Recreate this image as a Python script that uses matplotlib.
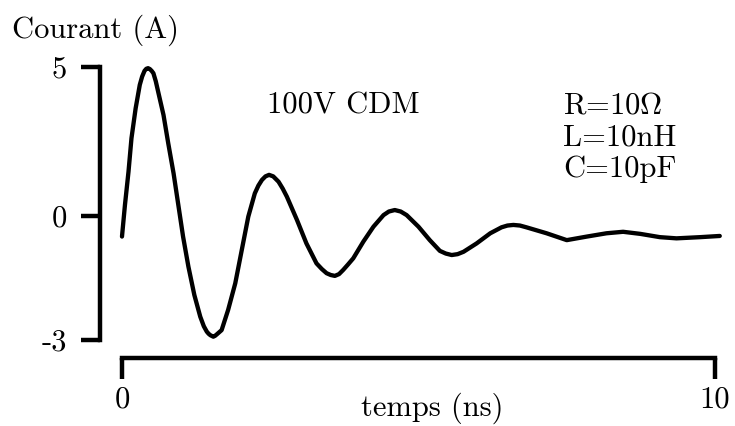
import matplotlib
matplotlib.use("Agg")
from matplotlib import pyplot as plt

plt.rcParams['font.family'] = ['cmr10', 'DejaVu Serif']
plt.rcParams['mathtext.fontset'] = 'cm'
plt.rcParams['axes.unicode_minus'] = False

# courbe : temps (ns), courant (A)
temps = [0.00, 0.05, 0.11, 0.16, 0.23, 0.30, 0.34, 0.38, 0.41, 0.44,
         0.47, 0.50, 0.53, 0.57, 0.61, 0.70, 0.78, 0.87, 0.95, 1.03,
         1.12, 1.22, 1.32, 1.38, 1.43, 1.46, 1.49, 1.54, 1.57, 1.60,
         1.68, 1.79, 1.91, 2.02, 2.13, 2.24, 2.30, 2.36, 2.42, 2.48,
         2.55, 2.64, 2.71, 2.78, 2.95, 3.11, 3.28, 3.37, 3.45, 3.52,
         3.59, 3.66, 3.73, 3.81, 3.90, 4.07, 4.24, 4.41, 4.50, 4.60,
         4.70, 4.80, 5.00, 5.19, 5.36, 5.46, 5.56, 5.66, 5.76, 5.98,
         6.21, 6.40, 6.50, 6.60, 6.71, 6.82, 7.16, 7.50, 7.84, 8.17,
         8.45, 8.74, 9.07, 9.35, 9.75, 10.08]
courant = [-0.69, 0.37, 1.49, 2.61, 3.61, 4.40, 4.68, 4.87, 4.94, 4.96,
           4.93, 4.87, 4.79, 4.52, 4.17, 3.39, 2.44, 1.43, 0.37, -0.69,
           -1.70, -2.65, -3.38, -3.70, -3.88, -3.95, -4.00, -4.05, -4.02, -3.97,
           -3.83, -3.15, -2.26, -1.14, -0.02, 0.76, 1.02, 1.21, 1.33, 1.38,
           1.33, 1.15, 0.92, 0.65, -0.13, -0.92, -1.59, -1.78, -1.92, -1.98,
           -2.01, -1.95, -1.81, -1.63, -1.42, -0.86, -0.36, 0.03, 0.15, 0.20,
           0.15, 0.03, -0.36, -0.81, -1.17, -1.26, -1.31, -1.28, -1.20, -0.92,
           -0.58, -0.38, -0.32, -0.30, -0.32, -0.38, -0.58, -0.81, -0.69, -0.58,
           -0.53, -0.60, -0.71, -0.75, -0.71, -0.67]

# graduations (l'axe vertical n'est pas lineaire sur l'original)
yticks_pos = [5, 0, -4.16]
yticks_lab = ['5', '0', '-3']
xticks_pos = [0, 10]
xticks_lab = ['0', '10']

W, H = 735, 426
fig = plt.figure(figsize=(W / 100, H / 100), dpi=100)
ax = fig.add_axes([0, 0, 1, 1])
ax.patch.set_alpha(0)

ax.plot(temps, courant, color='black', lw=3.1, solid_capstyle='round',
        solid_joinstyle='round')

ax.set_xlim(-2.057, 10.337)
ax.set_ylim(-7.047, 7.248)

for s in ['top', 'right']:
    ax.spines[s].set_visible(False)
ax.spines['left'].set_position(('data', -0.371))
ax.spines['left'].set_bounds(-4.16, 5)
ax.spines['bottom'].set_position(('data', -4.765))
ax.spines['bottom'].set_bounds(0, 10)
for s in ['left', 'bottom']:
    ax.spines[s].set_linewidth(3.2)
    ax.spines[s].set_capstyle('projecting')

ax.set_yticks(yticks_pos)
ax.set_yticklabels(yticks_lab)
ax.set_xticks(xticks_pos)
ax.set_xticklabels(xticks_lab)
ax.tick_params(axis='y', direction='out', length=13.7, width=3.2, pad=10, labelsize=22)
ax.tick_params(axis='x', direction='out', length=15, width=3.2, pad=5, labelsize=22)

def fig_text(x, y, s, **kw):
    fig.text(x / W, 1 - y / H, s, fontsize=22, **kw)

fig_text(12, 38, 'Courant (A)', ha='left', va='baseline')
fig_text(432, 416, 'temps (ns)', ha='center', va='baseline')
fig_text(267, 113, '100V CDM', ha='left', va='baseline')
fig_text(563, 113, r'R=10$\Omega$', ha='left', va='baseline')
fig_text(563, 145, 'L=10nH', ha='left', va='baseline')
fig_text(563, 177, 'C=10pF', ha='left', va='baseline')

fig.savefig('out.png', dpi=100)
